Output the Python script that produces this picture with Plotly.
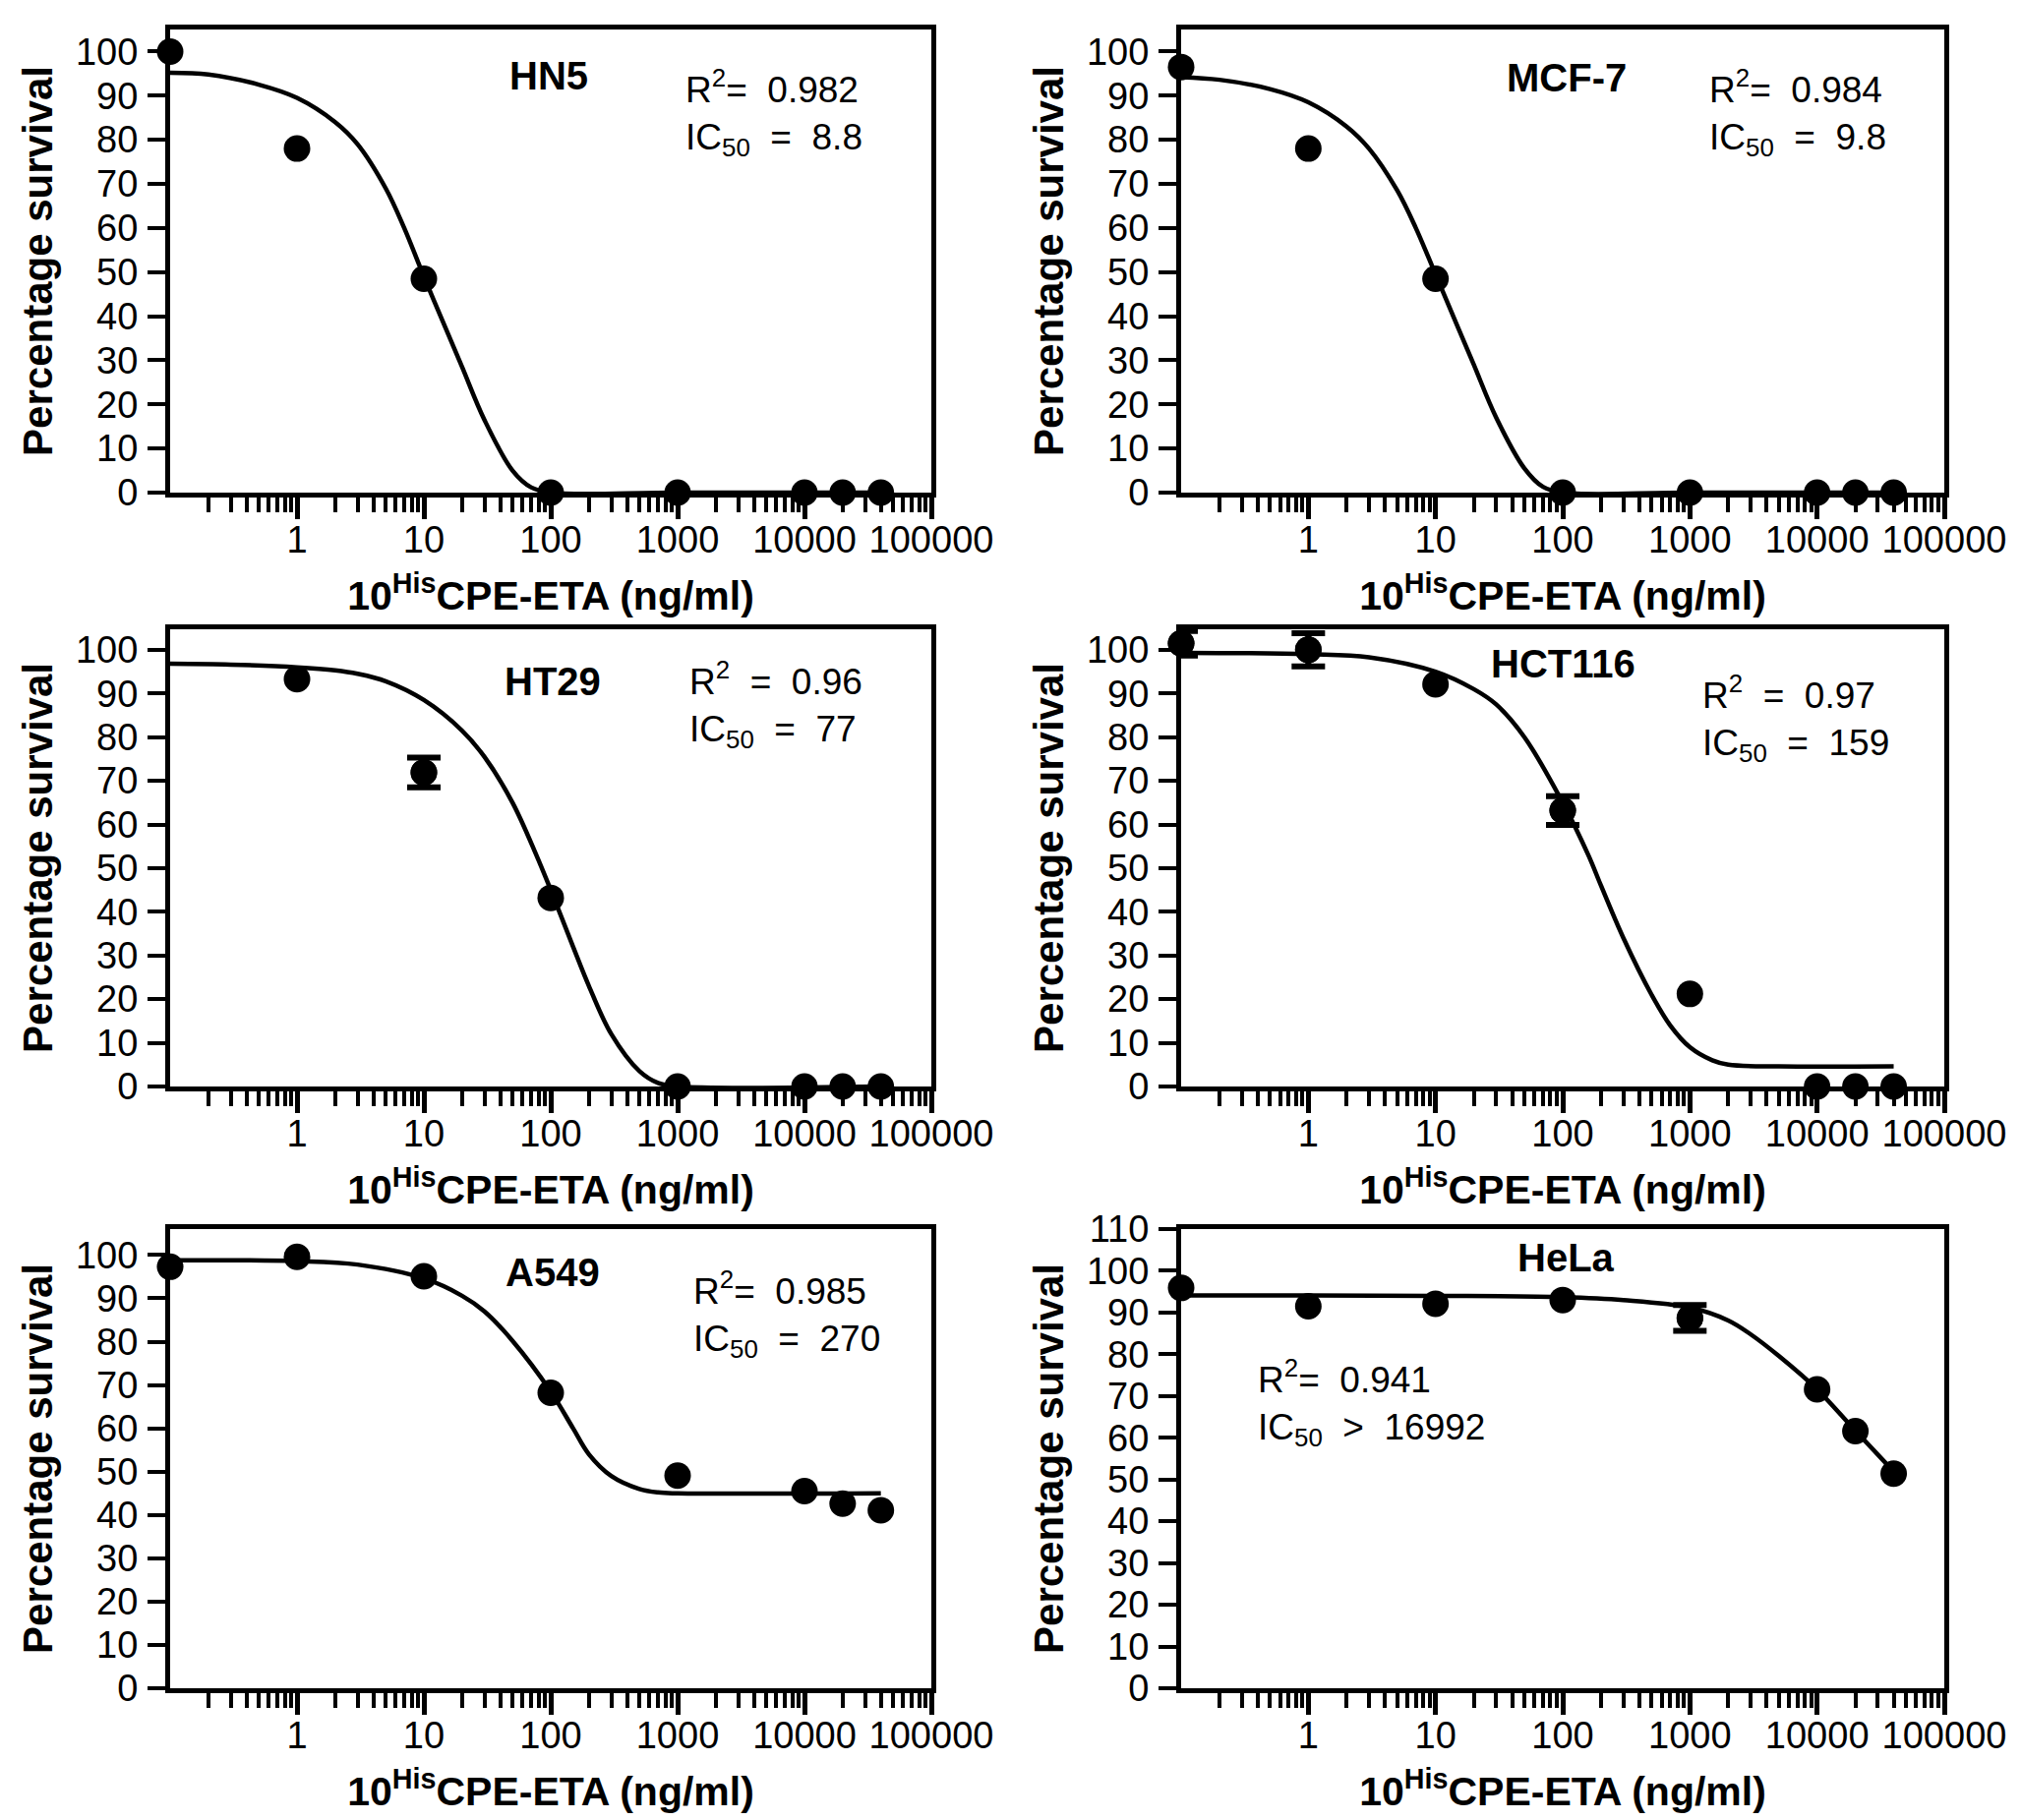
import plotly.graph_objects as go

# concentrations (ng/ml) shared by all six cell lines
doses = [0.1, 1, 10, 100, 1000, 10000, 20000, 40000]

# mean percentage survival
hn5_surv = [100, 78, 48.5, 0, 0, 0, 0, 0]
mcf7_surv = [96.5, 78, 48.5, 0, 0, 0, 0, 0]
ht29_surv = [None, 93.3, 71.9, 43.2, 0, 0, 0, 0]
hct116_surv = [101.5, 100, 92.1, 63.2, 21.2, 0, 0, 0]
a549_surv = [97.3, 99.6, 95.1, 68.2, 49.1, 45.5, 42.6, 41.1]
hela_surv = [95.9, 91.5, 92.1, 93.0, 88.7, 71.6, 61.6, 51.4]

# error bars (only where visible)
ht29_err = [None, None, 3.4, None, None, None, None, None]
hct116_err = [2.8, 3.8, None, 3.3, None, None, None, None]
hela_err = [None, None, None, None, 3.1, None, None, None]

# fitted curves
hn5_fit_x = [0.1, 0.2, 0.5, 1, 2, 3, 5, 7, 10, 15, 20, 30, 50, 70, 100, 1000, 40000]
hn5_fit_y = [95.2, 94.8, 92.5, 89.5, 84, 79, 69, 60, 49, 37, 28.5, 16.5, 5, 1.2, 0, 0, 0]
mcf7_fit_x = [0.1, 0.2, 0.5, 1, 2, 3, 5, 7, 10, 15, 20, 30, 50, 70, 100, 1000, 40000]
mcf7_fit_y = [94.2, 93.6, 91.5, 88.5, 83, 78, 68.5, 60, 49.5, 37.5, 29, 17, 5.5, 1.3, 0, 0, 0]
ht29_fit_x = [0.1, 0.3, 1, 2, 3, 5, 10, 20, 30, 50, 77, 100, 150, 200, 300, 500, 700, 1000, 40000]
ht29_fit_y = [96.8, 96.6, 96.0, 95.3, 94.5, 92.8, 88.5, 81.5, 75.5, 65, 53, 45, 32, 23, 12, 3.5, 0.8, 0, 0]
hct116_fit_x = [0.1, 1, 3, 10, 20, 30, 50, 100, 159, 200, 300, 500, 700, 1000, 1500, 2000, 5000, 40000]
hct116_fit_y = [99.3, 99.0, 98.3, 95, 91, 87.5, 80, 65, 53, 46, 34, 21, 14, 9, 6, 5, 4.6, 4.6]
a549_fit_x = [0.1, 1, 3, 10, 20, 30, 50, 100, 150, 200, 300, 500, 700, 1000, 40000]
a549_fit_y = [98.8, 98.6, 97.8, 94.6, 90.6, 87, 80.2, 68.5, 60, 54, 49, 46, 45.2, 45, 45]
hela_fit_x = [0.1, 1, 10, 100, 300, 1000, 2000, 3000, 5000, 10000, 20000, 40000]
hela_fit_y = [94.1, 94.1, 94.0, 93.7, 93, 91.2, 88.1, 84.8, 79.6, 71.6, 61.7, 51.9]

cell_lines = ["HN5", "MCF-7", "HT29", "HCT116", "A549", "HeLa"]
r2_text = ["R<sup>2</sup>=  0.982", "R<sup>2</sup>=  0.984", "R<sup>2</sup>  =  0.96",
           "R<sup>2</sup>  =  0.97", "R<sup>2</sup>=  0.985", "R<sup>2</sup>=  0.941"]
ic50_text = ["IC<sub>50</sub>  =  8.8", "IC<sub>50</sub>  =  9.8", "IC<sub>50</sub>  =  77",
             "IC<sub>50</sub>  =  159", "IC<sub>50</sub>  =  270", "IC<sub>50</sub>  >  16992"]
y_ticks = [list(range(0, 101, 10))] * 5 + [list(range(0, 111, 10))]

survival = [hn5_surv, mcf7_surv, ht29_surv, hct116_surv, a549_surv, hela_surv]
errors = [None, None, ht29_err, hct116_err, None, hela_err]
fits = [(hn5_fit_x, hn5_fit_y), (mcf7_fit_x, mcf7_fit_y), (ht29_fit_x, ht29_fit_y),
        (hct116_fit_x, hct116_fit_y), (a549_fit_x, a549_fit_y), (hela_fit_x, hela_fit_y)]

# layout (pixel boxes of each panel on the 2055x1851 canvas)
W, H = 2055, 1851
col_x = [(165, 939), (1193, 1969)]
row_y = [(22, 493), (632, 1097), (1242, 1709)]
y_top = [105, 105, 104.7, 104.7, 106, 110]
# annotation positions in axis-domain fractions
name_pos = [(0.498, 0.9), (0.505, 0.897), (0.503, 0.885), (0.5, 0.925), (0.503, 0.905), (0.505, 0.938)]
stat_pos = [(0.674, 0.82), (0.69, 0.82), (0.68, 0.836), (0.68, 0.805), (0.685, 0.814), (0.098, 0.621)]

sans = "Liberation Sans, Arial"

major = [1, 10, 100, 1000, 10000, 100000]
minor = [k * 10 ** d for d in range(-1, 5) for k in range(2, 10)]

fig = go.Figure()
annotations = []
for i, name in enumerate(cell_lines):
    r, c = divmod(i, 2)
    sfx = "" if i == 0 else str(i + 1)
    xa, ya = "x" + sfx, "y" + sfx
    fx, fy = fits[i]
    fig.add_trace(go.Scatter(x=fx, y=fy, mode="lines",
                             line=dict(color="black", width=4.5, shape="spline", smoothing=1.0),
                             xaxis=xa, yaxis=ya, showlegend=False, hoverinfo="skip"))
    fig.add_trace(go.Scatter(x=doses, y=survival[i], mode="markers", marker=dict(color="black", size=27),
                             cliponaxis=False, xaxis=xa, yaxis=ya, showlegend=False))
    if errors[i] is not None:
        idx = [k for k, e in enumerate(errors[i]) if e is not None]
        fig.add_trace(go.Scatter(x=[doses[k] for k in idx], y=[survival[i][k] for k in idx], mode="markers",
                                 marker=dict(color="black", size=27), cliponaxis=False,
                                 error_y=dict(type="data", array=[errors[i][k] for k in idx], visible=True,
                                              color="black", thickness=6, width=17),
                                 xaxis=xa, yaxis=ya, showlegend=False))

    x0, x1 = col_x[c]
    y0, y1 = row_y[r]
    axis_x = dict(type="log", range=[-1, 5], domain=[x0 / W, x1 / W], anchor=ya, automargin=False,
                  showline=True, linecolor="black", linewidth=5, mirror=True, showgrid=False, zeroline=False,
                  tickvals=major, ticktext=[str(v) for v in major], ticks="outside", ticklen=22, tickwidth=5,
                  tickcolor="black", ticklabelstandoff=-12,
                  minor=dict(tickvals=minor, ticks="outside", ticklen=15, tickwidth=4, tickcolor="black"),
                  tickfont=dict(family=sans, size=38, color="black"),
                  title=dict(text="<b>10<sup>His</sup>CPE-ETA (ng/ml)</b>", standoff=24,
                             font=dict(family=sans, size=41, color="black")))
    axis_y = dict(range=[0, y_top[i]], domain=[1 - y1 / H, 1 - y0 / H], anchor=xa, automargin=False,
                  showline=True, linecolor="black", linewidth=5, mirror=True, showgrid=False, zeroline=False,
                  tickvals=y_ticks[i], ticks="outside", ticklen=18, tickwidth=4, tickcolor="black",
                  ticklabelstandoff=2,
                  tickfont=dict(family=sans, size=38, color="black"),
                  title=dict(text="<b>Percentage survival</b>", standoff=12,
                             font=dict(family=sans, size=42, color="black")))
    fig.update_layout({"xaxis" + sfx: axis_x, "yaxis" + sfx: axis_y})

    annotations.append(dict(xref=xa + " domain", yref=ya + " domain", x=name_pos[i][0], y=name_pos[i][1],
                            text="<b>" + name + "</b>", showarrow=False, xanchor="center", yanchor="middle",
                            font=dict(family=sans, size=40, color="black")))
    annotations.append(dict(xref=xa + " domain", yref=ya + " domain", x=stat_pos[i][0], y=stat_pos[i][1],
                            text=r2_text[i] + "<br>" + ic50_text[i], showarrow=False, align="left",
                            xanchor="left", yanchor="middle",
                            font=dict(family=sans, size=37, color="black")))

fig.update_layout(width=W, height=H, margin=dict(l=0, r=0, t=0, b=0),
                  paper_bgcolor="white", plot_bgcolor="white", annotations=annotations)
fig.write_html("out.html")
